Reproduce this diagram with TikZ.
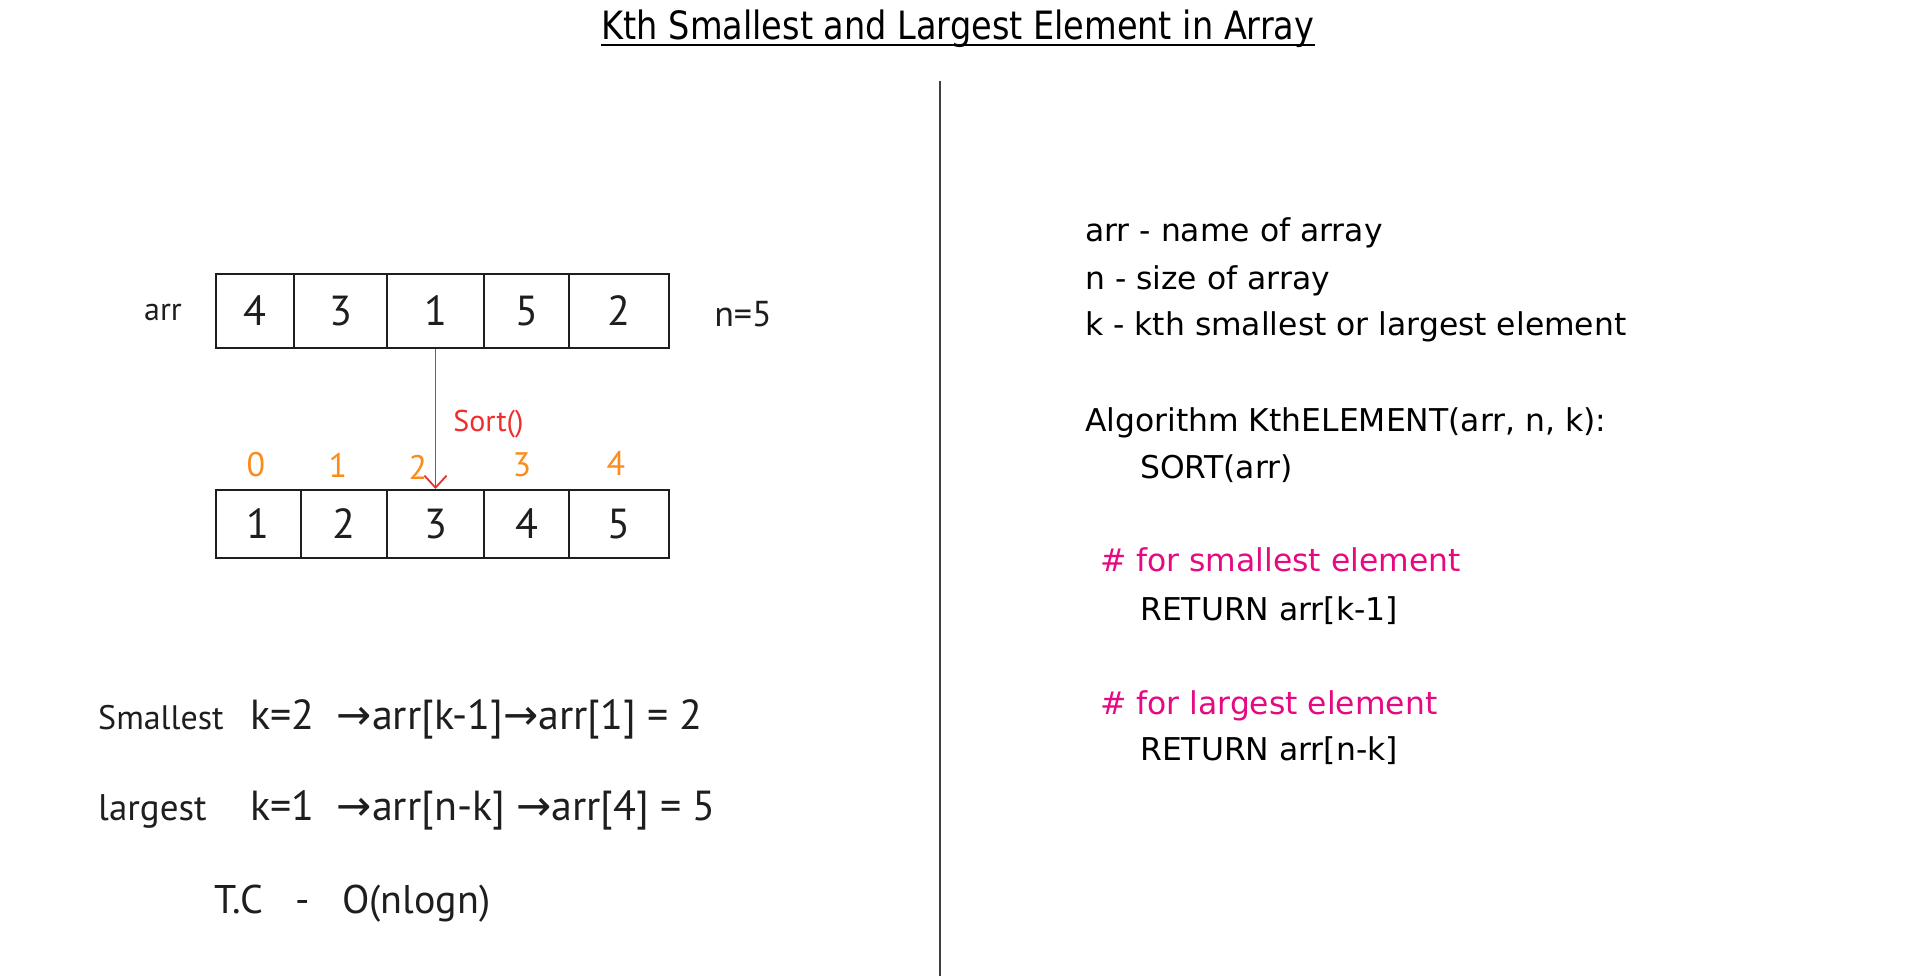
\documentclass[tikz,border=0pt]{standalone}
\usepackage{fontspec}
\setmainfont{DejaVu Sans}
\newfontfamily\typedf{DejaVu Sans}
\newfontfamily\titlef[FakeStretch=0.86]{DejaVu Sans}
\newfontfamily\handf{PT Sans}
\newfontfamily\symf{DejaVu Sans}
\usetikzlibrary{arrows.meta}
\definecolor{inkred}{RGB}{238,45,45}
\definecolor{inkorange}{RGB}{250,140,30}
\definecolor{inkpink}{RGB}{230,10,130}
\definecolor{ink}{RGB}{30,30,30}
\newcommand\myto{{\symf\char"2192}}
\begin{document}
\begin{tikzpicture}[x=1pt,y=-1pt,
  cell/.style={draw=ink, line width=2pt, inner sep=0pt, font=\handf\fontsize{42}{44}\selectfont, text=ink},
  idx/.style={inner sep=0pt, font=\handf\fontsize{34}{36}\selectfont, text=inkorange},
  hw/.style={inner sep=0pt, anchor=base west, text=ink},
  code/.style={font=\typedf\fontsize{31.4}{36}\selectfont, anchor=base west, inner sep=0pt, text=black},
  sortarrow/.style={draw=inkred, line width=1.8pt, -{Straight Barb[length=12pt,width=22pt,line width=1.8pt]}}
]
\useasboundingbox (0,0) rectangle (1920,976);
\fill[white] (0,0) rectangle (1920,976);

% title
\node[font=\titlef\fontsize{39}{42}\selectfont, inner sep=0pt, anchor=base] (title) at (958,40) {Kth Smallest and Largest Element in Array};
\draw[line width=2pt] ([yshift=-5pt]title.base west) -- ([yshift=-5pt]title.base east);

% divider
\coordinate (vtop) at (940,81);
\coordinate (vbot) at (940,976);
\draw[line width=2.5pt, black!75] (vtop) -- (vbot);

% top array
\node[cell, minimum width=78.5pt, minimum height=74pt] (t1) at (254.75,311) {4};
\node[cell, minimum width=93pt, minimum height=74pt] (t2) at (340.5,311) {3};
\node[cell, minimum width=97pt, minimum height=74pt] (t3) at (435.5,311) {1};
\node[cell, minimum width=85pt, minimum height=74pt] (t4) at (526.5,311) {5};
\node[cell, minimum width=99.6pt, minimum height=74pt] (t5) at (618.8,311) {2};
\node[hw, anchor=center, font=\handf\fontsize{32}{34}\selectfont] (arrlbl) at (163,312) {arr};
\node[hw, anchor=center, font=\handf\fontsize{36}{38}\selectfont] (nlbl) at (743,314) {n=5};

% bottom array
\node[cell, minimum width=85.5pt, minimum height=68pt] (b1) at (258.25,524) {1};
\node[cell, minimum width=86pt, minimum height=68pt] (b2) at (344,524) {2};
\node[cell, minimum width=97pt, minimum height=68pt] (b3) at (435.5,524) {3};
\node[cell, minimum width=85pt, minimum height=68pt] (b4) at (526.5,524) {4};
\node[cell, minimum width=99.6pt, minimum height=68pt] (b5) at (618.8,524) {5};

% indices
\node[idx] (i0) at (256,465) {0};
\node[idx] (i1) at (338,465) {1};
\node[idx] (i2) at (418,467) {2};
\node[idx] (i3) at (522,465) {3};
\node[idx] (i4) at (616,463) {4};

% sort arrow
\draw[sortarrow] (t3.south) -- (b3.north)
  node[pos=0.5, anchor=west, xshift=17pt, yshift=-5pt, inner sep=0pt, text=inkred, font=\handf\fontsize{30}{32}\selectfont] (sortlbl) {Sort()};

% handwritten notes
\node[hw, font=\handf\fontsize{34}{36}\selectfont] (s1) at (98,729) {Smallest};
\node[hw, font=\handf\fontsize{42}{46}\selectfont] (s2) at (250,729) {k=2 \ \myto arr[k-1]\myto arr[1] = 2};
\node[hw, font=\handf\fontsize{37}{40}\selectfont] (g1) at (98,820) {largest};
\node[hw, font=\handf\fontsize{42}{46}\selectfont] (g2) at (250,820) {k=1 \ \myto arr[n-k] \myto arr[4] = 5};
\node[hw, font=\handf\fontsize{40}{42}\selectfont] (tc) at (214,913) {T.C\hspace{32pt}-\hspace{32pt}O(nlogn)};

% pseudocode
\node[code] (l1) at (1085,242) {arr - name of array};
\node[code] (l2) at (1085,290) {n - size of array};
\node[code] (l3) at (1085,336) {k - kth smallest or largest element};
\node[code] (l4) at (1085,431) {Algorithm KthELEMENT(arr, n, k):};
\node[code] (l5) at (1140,478) {SORT(arr)};
\node[code, text=inkpink] (l6) at (1100,571) {\# for smallest element};
\node[code] (l7) at (1140,620) {RETURN arr[k-1]};
\node[code, text=inkpink] (l8) at (1100,714) {\# for largest element};
\node[code] (l9) at (1140,760) {RETURN arr[n-k]};
\end{tikzpicture}
\end{document}
